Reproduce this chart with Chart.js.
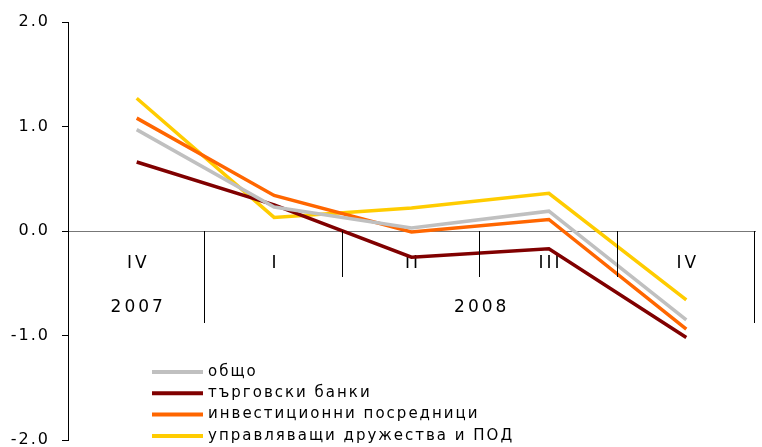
<!DOCTYPE html>
<html>
<head>
<meta charset="utf-8">
<script src="https://cdn.jsdelivr.net/npm/chart.js@4/dist/chart.umd.min.js"></script>
<style>
  html, body { margin: 0; padding: 0; background: #fff; }
  #wrap { width: 762px; height: 447px; }
</style>
</head>
<body>
<div id="wrap"><canvas id="lineChart"></canvas></div>
<script>
// данни
const quarters = ['IV', 'I', 'II', 'III', 'IV'];
const years = ['2007', '2008'];
const yearFirst = [0, 1];   // първа категория на всяка година
const yearLast = [0, 4];    // последна категория на всяка година
const seriesNames = ['общо', 'търговски банки', 'инвестиционни посредници', 'управляващи дружества и ПОД'];
const total = [0.97, 0.23, 0.03, 0.19, -0.85];
const banks = [0.66, 0.25, -0.25, -0.17, -1.02];
const brokers = [1.08, 0.34, -0.01, 0.11, -0.94];
const funds = [1.27, 0.13, 0.22, 0.36, -0.66];
const colors = ['#C0C0C0', '#800000', '#FF6600', '#FFCC00'];

const FONT = 'DejaVu Sans, Verdana, sans-serif';
const X_SPACING = 3;
const Y_SPACING = 2;

// разреждане на буквите по осите
function spaceLabels(scale, px, shift) {
    if (scale._spaced) return;
    const orig = scale.drawLabels.bind(scale);
    scale.drawLabels = function(area) {
        const ctx = this.ctx;
        ctx.save();
        ctx.letterSpacing = px + 'px';
        ctx.translate(shift, 0);
        orig(area);
        ctx.restore();
    };
    scale._spaced = true;
}

// разделители, години и легенда
const axisExtras = {
    id: 'axisExtras',
    beforeDraw(chart) {
        spaceLabels(chart.scales.x, X_SPACING, X_SPACING / 2);
        spaceLabels(chart.scales.y, Y_SPACING, 0);
    },
    afterDraw(chart) {
        const ctx = chart.ctx;
        const x = chart.scales.x;
        const y0 = chart.scales.y.getPixelForValue(0);
        const area = chart.chartArea;
        ctx.save();
        ctx.strokeStyle = '#000';
        ctx.lineWidth = 1;
        for (let i = 0; i < quarters.length; i++) {
            const right = i < quarters.length - 1
                ? (x.getPixelForValue(i) + x.getPixelForValue(i + 1)) / 2
                : area.right;
            const isYearEnd = yearLast.includes(i);
            const px = Math.round(right) - 0.5;
            ctx.beginPath();
            ctx.moveTo(px, y0);
            ctx.lineTo(px, y0 + (isYearEnd ? 92 : 46));
            ctx.stroke();
        }
        ctx.fillStyle = '#000';
        ctx.font = '17px ' + FONT;
        ctx.letterSpacing = X_SPACING + 'px';
        ctx.textAlign = 'center';
        ctx.textBaseline = 'middle';
        years.forEach((yr, k) => {
            const cx = (x.getPixelForValue(yearFirst[k]) + x.getPixelForValue(yearLast[k])) / 2;
            ctx.fillText(yr, cx + X_SPACING / 2, y0 + 77);
        });

        // легенда
        const lx = 152, ly = 372;
        ctx.font = '15px ' + FONT;
        ctx.letterSpacing = '2px';
        ctx.textAlign = 'left';
        chart.data.datasets.forEach((ds, k) => {
            const yy = ly + k * 21.3;
            ctx.strokeStyle = ds.borderColor;
            ctx.lineWidth = 4;
            ctx.beginPath();
            ctx.moveTo(lx, yy);
            ctx.lineTo(lx + 51, yy);
            ctx.stroke();
            ctx.fillStyle = '#000';
            ctx.fillText(ds.label, lx + 56, yy);
        });
        ctx.restore();
    }
};

const datasets = [total, banks, brokers, funds].map((vals, k) => ({
    label: seriesNames[k],
    data: vals,
    borderColor: colors[k],
    backgroundColor: colors[k],
    borderWidth: 3.5,
    pointRadius: 0,
    tension: 0,
    fill: false
}));

const lineChart = new Chart(document.getElementById('lineChart'), {
    type: 'line',
    data: { labels: quarters, datasets: datasets },
    options: {
        responsive: true,
        maintainAspectRatio: false,
        animation: false,
        layout: { padding: { top: 22, right: 7, bottom: 7, left: 0 } },
        plugins: { legend: { display: false }, tooltip: { enabled: false } },
        scales: {
            x: {
                position: { y: 0 },
                offset: true,
                afterFit(scale) {
                    scale.height = 0;
                    scale.paddingLeft = scale.paddingRight = 0;
                    scale.paddingTop = scale.paddingBottom = 0;
                },
                grid: { display: false, drawTicks: false },
                border: { display: true, color: '#777', width: 1 },
                ticks: {
                    color: '#000',
                    font: { family: FONT, size: 17 },
                    padding: 22,
                    maxRotation: 0,
                    autoSkip: false
                }
            },
            y: {
                min: -2,
                max: 2,
                afterFit(scale) {
                    scale.width = 68;
                    scale.paddingTop = scale.paddingBottom = 0;
                },
                grid: { drawOnChartArea: false, drawTicks: true, tickLength: 6, color: '#000' },
                border: { display: true, color: '#000', width: 1 },
                ticks: {
                    stepSize: 1,
                    color: '#000',
                    padding: 14 - Y_SPACING,
                    font: { family: FONT, size: 16 },
                    callback: v => v.toFixed(1)
                }
            }
        }
    },
    plugins: [axisExtras]
});
</script>
</body>
</html>
